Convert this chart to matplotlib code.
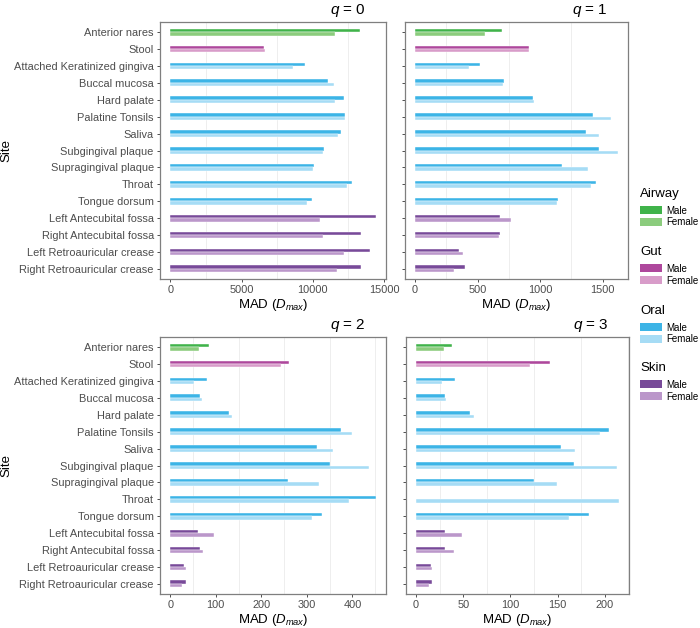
import numpy as np
import matplotlib
matplotlib.use("Agg")
import matplotlib.pyplot as plt
from matplotlib.patches import Patch
from matplotlib.ticker import MultipleLocator

plt.rcParams['font.family'] = ['Liberation Sans', 'DejaVu Sans']
plt.rcParams['mathtext.fontset'] = 'custom'
plt.rcParams['mathtext.rm'] = 'Liberation Sans'
plt.rcParams['mathtext.it'] = 'Liberation Sans:italic'

# sites, top to bottom
sites = ["Anterior nares", "Stool", "Attached Keratinized gingiva", "Buccal mucosa",
         "Hard palate", "Palatine Tonsils", "Saliva", "Subgingival plaque",
         "Supragingival plaque", "Throat", "Tongue dorsum", "Left Antecubital fossa",
         "Right Antecubital fossa", "Left Retroauricular crease", "Right Retroauricular crease"]
body = ["Airway", "Gut"] + ["Oral"] * 9 + ["Skin"] * 4

# MAD values per order q
q0_male = [13330, 6600, 9480, 11050, 12160, 12230, 11950, 10790, 10110, 12740, 9950, 14420, 13400, 14050, 13370]
q0_female = [11530, 6640, 8600, 11510, 11530, 12230, 11790, 10700, 10000, 12420, 9620, 10490, 10740, 12190, 11670]
q1_male = [698, 910, 515, 708, 939, 1425, 1366, 1467, 1173, 1443, 1143, 679, 682, 348, 398]
q1_female = [557, 907, 427, 703, 952, 1565, 1472, 1621, 1385, 1406, 1135, 764, 674, 382, 313]
q2_male = [86, 261, 81, 65, 130, 375, 323, 351, 258, 451, 333, 61, 65, 31, 34]
q2_female = [64, 243, 53, 69, 136, 399, 358, 437, 326, 392, 311, 95, 72, 34, 26]
q3_male = [38, 142, 41, 31, 57, 205, 154, 167, 125, np.nan, 183, 31, 31, 16, 17]
q3_female = [30, 121, 27, 32, 61, 195, 168, 213, 149, 215, 162, 49, 40, 17, 14]

panels = [(0, q0_male, q0_female, 5000),
          (1, q1_male, q1_female, 500),
          (2, q2_male, q2_female, 100),
          (3, q3_male, q3_female, 50)]

male_col = {"Airway": "#40b34a", "Gut": "#ae479c", "Oral": "#3cb4e6", "Skin": "#784a99"}
female_col = {"Airway": "#8bcc7d", "Gut": "#d89cc9", "Oral": "#a6dcf5", "Skin": "#bb97ca"}

W, H = 700, 628
fig = plt.figure(figsize=(7, 6.28), dpi=100)

# panel boxes in pixels: left, top, right, bottom
boxes = [(160, 22, 386, 279), (405, 22, 628, 279),
         (160, 337, 386, 594), (406, 337, 629, 594)]

y = np.arange(len(sites))
for (q, male, female, step), (l, t, r, b) in zip(panels, boxes):
    ax = fig.add_axes([l / W, 1 - b / H, (r - l) / W, (b - t) / H])
    m = np.array(male, dtype=float)
    f = np.array(female, dtype=float)
    ax.barh(y - 0.1, m, height=0.2, color=[male_col[g] for g in body],
            edgecolor='white', linewidth=0.3, zorder=2)
    ax.barh(y + 0.1, f, height=0.2, color=[female_col[g] for g in body],
            edgecolor='white', linewidth=0.3, zorder=2)
    top = np.nanmax(np.concatenate([m, f]))
    ax.set_xlim(-0.05 * top, 1.05 * top)
    ax.set_ylim(len(sites) - 0.4, -0.6)
    ax.xaxis.set_major_locator(MultipleLocator(step))
    ax.xaxis.set_minor_locator(MultipleLocator(step / 2))
    ax.grid(which='minor', axis='x', color='#ebebeb', linewidth=0.6, zorder=0)
    ax.tick_params(which='minor', length=0)
    ax.tick_params(which='major', length=2.5, width=0.6, color='#333333',
                   labelsize=7.9, labelcolor='#4d4d4d', pad=2)
    ax.set_yticks(y)
    if q % 2 == 0:
        ax.set_yticklabels(sites)
        ax.set_ylabel('Site', fontsize=9.5)
        ax.yaxis.set_label_coords((12 - l) / (r - l), 0.5)
    else:
        ax.set_yticklabels([])
    ax.set_xlabel(r'MAD ($D_{max}$)', fontsize=9.5, labelpad=1)
    for s in ax.spines.values():
        s.set_color('#7f7f7f')
        s.set_linewidth(0.9)
    ax.text(1 - 20 / (r - l), 1 + 12 / (b - t), r'$q$ = %d' % q,
            transform=ax.transAxes, ha='right', va='center', fontsize=11)

# legend, one block per body site
ys = [194, 252, 311, 368]
for g, ty in zip(["Airway", "Gut", "Oral", "Skin"], ys):
    handles = [Patch(facecolor=male_col[g], label='Male'),
               Patch(facecolor=female_col[g], label='Female')]
    leg = fig.legend(handles=handles, title=g, loc='upper left',
                     bbox_to_anchor=(640 / W, 1 - (ty - 6) / H), frameon=False,
                     fontsize=7, title_fontsize=9.5, handlelength=2.3, handleheight=0.9,
                     labelspacing=0.2, handletextpad=0.35, borderpad=0, borderaxespad=0)
    leg._legend_box.align = 'left'
    leg._legend_box.sep = 4

fig.savefig('out.png', dpi=100)
